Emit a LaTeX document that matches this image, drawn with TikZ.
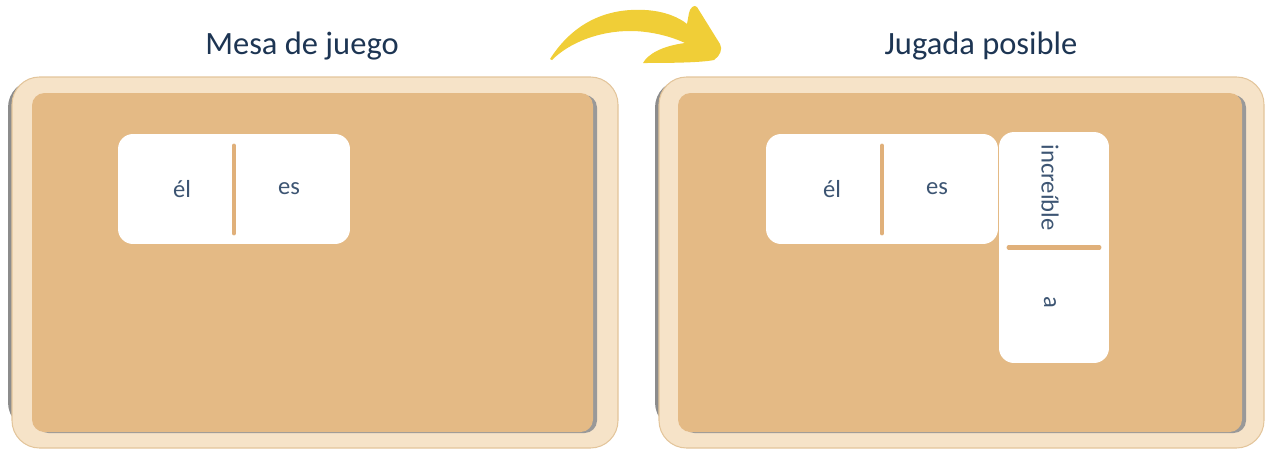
\documentclass[tikz,border=0pt]{standalone}
\usepackage{fontspec}
\setmainfont{Carlito}
\usetikzlibrary{positioning}
\definecolor{navy}{HTML}{1D3553}
\definecolor{inkblue}{HTML}{3D5573}
\definecolor{wood}{HTML}{F6E3C8}
\definecolor{woodedge}{HTML}{E3C59B}
\definecolor{cork}{HTML}{E4BA85}
\definecolor{peg}{HTML}{E0B07A}
\definecolor{arrowyellow}{HTML}{F0CE37}

\begin{document}
\begin{tikzpicture}[x=0.02cm, y=-0.02cm, font=\fontsize{14}{16}\selectfont,
  heading/.style={font=\fontsize{18.5}{22}\selectfont, text=navy},
  frame/.style={fill=wood, draw=woodedge, line width=0.6pt, rounded corners=0.55cm},
  rim/.style={fill=black!45, rounded corners=0.55cm},
  board/.style={fill=cork, rounded corners=0.25cm},
  dropshade/.style={fill=black!40, rounded corners=0.25cm},
  domino/.style={fill=white, rounded corners=0.3cm, inner sep=0pt},
  word/.style={text=inkblue, inner sep=1pt},
  divider/.style={draw=peg, line width=2.4pt, line cap=round}]
\useasboundingbox (0,0) rectangle (1269,450);

% left board
\path[rim] (8,80) rectangle (300,430);
\path[frame] (12,77) rectangle (618,448);
\path[dropshade] (36,95) rectangle (597,433);
\path[board] (32,93) rectangle (593,432);

% right board
\path[rim] (655,80) rectangle (950,430);
\path[frame] (659,77) rectangle (1264,448);
\path[dropshade] (682,95) rectangle (1246,433);
\path[board] (678,93) rectangle (1242,432);

% titles
\node[heading] (titleA) at (302,46) {Mesa de juego};
\node[heading] (titleB) at (981,46) {Jugada posible};

% arrow between the boards
\fill[arrowyellow] (550,59) .. controls (575,20) and (610,8) .. (645,10)
  .. controls (665,11) and (680,18) .. (687,24)
  -- (689,13) .. controls (690,8) and (694,4) .. (697,7)
  -- (720,44) .. controls (723,49) and (720,56) .. (714,60)
  .. controls (700,63) and (660,63) .. (643,63)
  .. controls (648,54) and (662,46) .. (685,43)
  .. controls (670,36) and (650,31) .. (630,31)
  .. controls (600,31) and (570,42) .. (552,60) -- cycle;

% domino on the left table
\node[domino, minimum width=4.64cm, minimum height=2.2cm] (domA) at (234,189) {};
\draw[divider] ([yshift=-0.24cm]domA.north) -- ([yshift=0.22cm]domA.south);
\node[word] (elA) at ([xshift=-1.04cm]domA.center) {él};
\node[word] (esA) at ([xshift=1.1cm]domA.center) {es};

% dominoes on the right table
\node[domino, minimum width=4.64cm, minimum height=2.2cm] (domB) at (882,189) {};
\draw[divider] ([yshift=-0.24cm]domB.north) -- ([yshift=0.22cm]domB.south);
\node[word] (elB) at ([xshift=-1.0cm]domB.center) {él};
\node[word] (esB) at ([xshift=1.1cm]domB.center) {es};

\node[domino, minimum width=2.2cm, minimum height=4.62cm] (domC) at (1054,247.5) {};
\draw[divider] ([xshift=0.2cm]domC.west) -- ([xshift=-0.2cm]domC.east);
\node[word, rotate=-90] (incC) at ([xshift=-0.08cm, yshift=1.2cm]domC.center) {increíble};
\node[word, rotate=-90] (aC) at ([xshift=-0.08cm, yshift=-1.1cm]domC.center) {a};
\end{tikzpicture}
\end{document}
